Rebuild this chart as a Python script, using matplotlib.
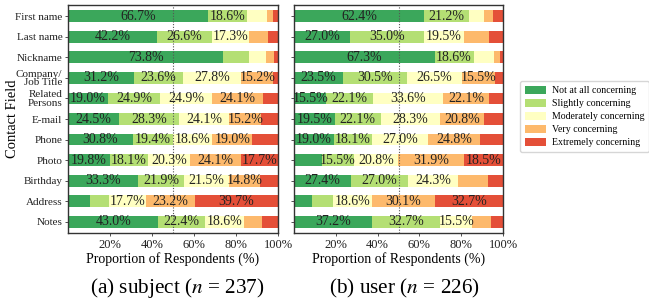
import matplotlib
matplotlib.use("Agg")
import matplotlib.pyplot as plt
import numpy as np
from matplotlib.patches import Patch

plt.rcParams['font.family'] = ['Liberation Serif', 'DejaVu Serif']
plt.rcParams['mathtext.fontset'] = 'stix'

fields = ["First name", "Last name", "Nickname", "Company/\nJob Title", "Related\nPersons",
          "E-mail", "Phone", "Photo", "Birthday", "Address", "Notes"]
levels = ["Not at all concerning", "Slightly concerning", "Moderately concerning",
          "Very concerning", "Extremely concerning"]
colors = ["#3ba75b", "#b4df74", "#ffffc2", "#fdb96c", "#e44f38"]

# subject (n=237): rows = fields, cols = levels
subject = np.array([
    [66.7, 18.6, 9.3, 3.0, 2.4],
    [42.2, 26.6, 17.3, 9.3, 4.6],
    [73.8, 12.2, 8.4, 3.8, 1.8],
    [31.2, 23.6, 27.8, 15.2, 2.2],
    [19.0, 24.9, 24.9, 24.1, 7.1],
    [24.5, 28.3, 24.1, 15.2, 7.9],
    [30.8, 19.4, 18.6, 19.0, 12.2],
    [19.8, 18.1, 20.3, 24.1, 17.7],
    [33.3, 21.9, 21.5, 14.8, 8.5],
    [10.5, 8.9, 17.7, 23.2, 39.7],
    [43.0, 22.4, 18.6, 8.6, 7.4],
])
# user (n=226)
user = np.array([
    [62.4, 21.2, 7.5, 4.3, 4.6],
    [27.0, 35.0, 19.5, 11.7, 6.8],
    [67.3, 18.6, 9.6, 2.9, 1.6],
    [23.5, 30.5, 26.5, 15.5, 4.0],
    [15.5, 22.1, 33.6, 22.1, 6.7],
    [19.5, 22.1, 28.3, 20.8, 9.3],
    [19.0, 18.1, 27.0, 24.8, 11.1],
    [13.3, 15.5, 20.8, 31.9, 18.5],
    [27.4, 27.0, 24.3, 14.0, 7.3],
    [8.4, 10.2, 18.6, 30.1, 32.7],
    [37.2, 32.7, 15.5, 8.7, 5.9],
])
xticks = [20, 40, 60, 80, 100]
captions = [r"(a) subject ($n$ = 237)", r"(b) user ($n$ = 226)"]

fig = plt.figure(figsize=(6.49, 3.04), dpi=100)
ax1 = fig.add_axes([68/649, 1-233/304, 210/649, 228/304])
ax2 = fig.add_axes([294/649, 1-233/304, 209/649, 228/304])

y = np.arange(len(fields))
for ax, data, show in [(ax1, subject, True), (ax2, user, False)]:
    left = np.zeros(len(fields))
    for j in range(len(levels)):
        ax.barh(y, data[:, j], left=left, height=0.58, color=colors[j], edgecolor='none', zorder=2)
        for i in range(len(fields)):
            v = data[i, j]
            if v >= 14.5:
                ax.text(left[i] + v/2, y[i], f"{v:.1f}%", ha='center', va='center',
                        fontsize=10, color='#222222', zorder=4)
        left += data[:, j]
    ax.axvline(50, color='#555555', linestyle=(0, (1, 1.5)), linewidth=0.8, zorder=3)
    ax.set_xlim(0, 100)
    ax.set_ylim(10.55, -0.55)
    ax.set_xticks(xticks)
    ax.set_xticklabels([f"{t}%" for t in xticks], fontsize=9)
    ax.set_yticks(y)
    if show:
        ax.set_yticklabels(fields, fontsize=8, linespacing=0.9)
        ax.set_ylabel("Contact Field", fontsize=10.5)
        ax.yaxis.set_label_coords(-0.233, 0.5)
    else:
        ax.set_yticklabels([])
    ax.tick_params(axis='both', length=2.5, width=0.6, pad=1.5, colors='#333333')
    ax.tick_params(axis='both', labelcolor='#222222')
    for s in ax.spines.values():
        s.set_color('#333333')
        s.set_linewidth(1.0)
    ax.set_xlabel("Proportion of Respondents (%)", fontsize=10, labelpad=1)

fig.text(177.5/649, 1-288/304, captions[0], ha='center', va='center', fontsize=15.3)
fig.text(404.5/649, 1-288/304, captions[1], ha='center', va='center', fontsize=15.3)

handles = [Patch(facecolor=c, edgecolor='none') for c in colors]
fig.legend(handles, levels, loc='upper left', bbox_to_anchor=(520/649, 1-81/304),
           fontsize=7.1, frameon=True, handlelength=2.1, handleheight=0.9,
           borderpad=0.5, labelspacing=0.35, handletextpad=0.6, borderaxespad=0,
           edgecolor='#cccccc', fancybox=True)

fig.savefig("out.png", dpi=100)
